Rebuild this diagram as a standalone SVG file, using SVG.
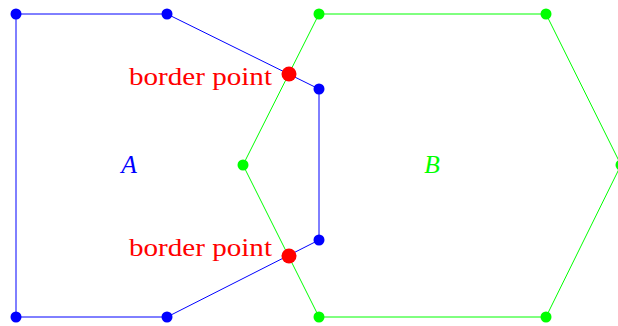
<svg xmlns="http://www.w3.org/2000/svg" width="618" height="326" viewBox="0 0 618 326">
<style>
.blue{fill:none;stroke:#0000ff;stroke-width:1}
.green{fill:none;stroke:#00ff00;stroke-width:1}
.bd{fill:#0000ff}
.gd{fill:#00ff00}
.rd{fill:#ff0000}
.lbl{font-family:"Liberation Serif","Times New Roman",serif;font-size:25.5px;fill:#ff0000}
.name{font-family:"Liberation Serif","Times New Roman",serif;font-size:25.5px;font-style:italic}
</style>
<rect width="618" height="326" fill="#ffffff"/>
<g id="connectors">
<polygon class="green" points="319,14 546,14 621,165 546,317 319,317 243,165"/>
<polygon class="blue" points="16,14 167,14 319,89 319,240 167,317 16,317"/>
</g>
<g id="polygonA">
<circle class="bd" cx="16" cy="14" r="5.5"/>
<circle class="bd" cx="167" cy="14" r="5.5"/>
<circle class="bd" cx="319" cy="89" r="5.5"/>
<circle class="bd" cx="319" cy="240" r="5.5"/>
<circle class="bd" cx="167" cy="317" r="5.5"/>
<circle class="bd" cx="16" cy="317" r="5.5"/>
<text class="name" x="129" y="173" text-anchor="middle" fill="#0000ff">A</text>
</g>
<g id="polygonB">
<circle class="gd" cx="319" cy="14" r="5.5"/>
<circle class="gd" cx="546" cy="14" r="5.5"/>
<circle class="gd" cx="621" cy="165" r="5.5"/>
<circle class="gd" cx="546" cy="317" r="5.5"/>
<circle class="gd" cx="319" cy="317" r="5.5"/>
<circle class="gd" cx="243" cy="165" r="5.5"/>
<text class="name" x="432" y="173" text-anchor="middle" fill="#00ff00">B</text>
</g>
<g id="borderPoint1">
<circle class="rd" cx="289" cy="74" r="7.5"/>
<text class="lbl" x="129" y="85" textLength="143" lengthAdjust="spacingAndGlyphs">border point</text>
</g>
<g id="borderPoint2">
<circle class="rd" cx="289" cy="256" r="7.5"/>
<text class="lbl" x="129" y="256" textLength="143" lengthAdjust="spacingAndGlyphs">border point</text>
</g>
</svg>
